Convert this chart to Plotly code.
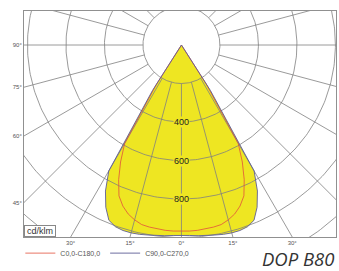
import numpy as np
import plotly.graph_objects as go

# ---- data (cd/klm) ----
gamma = [0, 2.5, 5, 7.5, 10, 12.5, 15, 17.5, 20, 22.5, 25, 27.5, 30, 32.5, 35]
c0_c180 = [968, 967, 966, 963, 960, 955, 940, 920, 890, 848, 772, 685, 590, 240, 0]
c90_c270 = [988, 990, 994, 998, 1002, 1007, 1010, 1010, 1004, 985, 930, 855, 755, 280, 0]

ring_values = [200, 400, 600, 800, 1000, 1200, 1400]
ring_labels = [400, 600, 800]
radial_angles = list(range(-180, 181, 15))
left_ticks = [90, 75, 60, 45]
bottom_ticks = [-30, -15, 0, 15, 30]

series_names = ["C0,0-C180,0", "C90,0-C270,0"]
unit_label = "cd/klm"
title_text = "DOP B80"

XR = [-818, 803]
YR = [-997, 176.6]

def polar_xy(g_half, vals):
    g = np.array(g_half, dtype=float)
    v = np.array(vals, dtype=float)
    gg = np.concatenate([-g[::-1], g[1:]])
    vv = np.concatenate([v[::-1], v[1:]])
    rad = np.radians(gg)
    return vv * np.sin(rad), -vv * np.cos(rad)

fig = go.Figure()

# yellow fill of the outer distribution
xo, yo = polar_xy(gamma, c90_c270)
fig.add_trace(go.Scatter(x=xo, y=yo, mode="lines", fill="toself",
                         fillcolor="#EEE622", line=dict(width=0),
                         showlegend=False, hoverinfo="skip"))

# grid rings
t = np.linspace(0, 2 * np.pi, 361)
gx, gy = [], []
for r in ring_values:
    gx += list(r * np.sin(t)) + [None]
    gy += list(-r * np.cos(t)) + [None]
# radial lines
for a in radial_angles:
    ar = np.radians(a)
    gx += [ring_values[0] * np.sin(ar), 1800 * np.sin(ar), None]
    gy += [-ring_values[0] * np.cos(ar), -1800 * np.cos(ar), None]
fig.add_trace(go.Scatter(x=gx, y=gy, mode="lines",
                         line=dict(color="#808080", width=0.8),
                         showlegend=False, hoverinfo="skip"))

# curves
xr_, yr_ = polar_xy(gamma, c0_c180)
fig.add_trace(go.Scatter(x=xr_, y=yr_, mode="lines", name=series_names[0],
                         line=dict(color="#E2503C", width=0.8)))
fig.add_trace(go.Scatter(x=xo, y=yo, mode="lines", name=series_names[1],
                         line=dict(color="#5E5E96", width=0.9)))

# axis tick positions from angles (where radial lines meet the frame)
ytickvals = [-abs(XR[0] / np.tan(np.radians(a))) if a != 90 else 0.0 for a in left_ticks]
xtickvals = [-YR[0] * np.tan(np.radians(a)) for a in bottom_ticks]

fig.update_xaxes(range=XR, showgrid=False, zeroline=False, showline=True,
                 mirror=True, linecolor="#909090", linewidth=1, automargin=False,
                 tickvals=xtickvals, ticktext=[f"{abs(a)}°" for a in bottom_ticks],
                 tickfont=dict(size=6, color="#555", family="Liberation Sans"),
                 ticks="", fixedrange=True)
fig.update_yaxes(range=YR, showgrid=False, zeroline=False, showline=True,
                 mirror=True, linecolor="#909090", linewidth=1, automargin=False,
                 tickvals=ytickvals, ticktext=[f"{a}°" for a in left_ticks],
                 tickfont=dict(size=6, color="#555", family="Liberation Sans"),
                 ticks="", fixedrange=True)

for v in ring_labels:
    fig.add_annotation(x=0, y=-v, xref="x", yref="y", text=str(v), showarrow=False,
                       font=dict(size=9, color="#222", family="Liberation Sans"),
                       bgcolor="#EEE622", borderpad=0)

fig.add_annotation(x=0, y=0, xref="paper", yref="paper", xanchor="left", yanchor="bottom",
                   text=unit_label, showarrow=False, width=30, height=10,
                   font=dict(size=9, color="#333", family="Liberation Sans"),
                   bgcolor="white", bordercolor="#888", borderwidth=1, borderpad=0)

fig.add_annotation(x=0.997, y=-0.096, xref="paper", yref="paper", xanchor="right", yanchor="middle",
                   text=title_text, showarrow=False, borderpad=0,
                   font=dict(size=18.5, color="#333", family="Open Sans", style="italic"))

fig.update_layout(
    width=339, height=271,
    margin=dict(l=24, r=3, t=11, b=34, autoexpand=False),
    paper_bgcolor="white", plot_bgcolor="white",
    showlegend=True,
    legend=dict(orientation="h", xref="container", yref="container",
                x=0.06, xanchor="left", y=0.066, yanchor="middle",
                font=dict(size=7, color="#555", family="Liberation Sans"),
                bgcolor="rgba(0,0,0,0)", borderwidth=0, itemwidth=30),
)

fig.write_html("out.html", config={"displayModeBar": False},
               post_script="document.body.style.margin='0';document.body.style.overflow='hidden';")
